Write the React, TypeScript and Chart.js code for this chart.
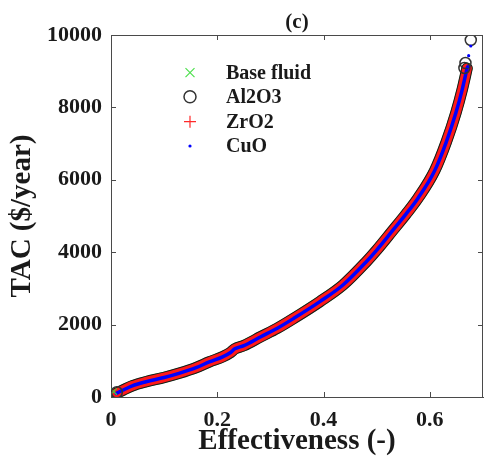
import React, { useEffect, useRef } from "react";
import { Chart, registerables } from "chart.js";

Chart.register(...registerables);

const FONT = '"Liberation Serif", "Times New Roman", Times, serif';
const AXIS = "#4a4a4a";
const TEXT = "#1a1a1a";

// Effectiveness (-) sampled along the curve
const effectiveness = [0.010, 0.023, 0.040, 0.066, 0.100, 0.128, 0.160, 0.185, 0.210, 0.225, 0.233, 0.250, 0.282, 0.313, 0.344, 0.393, 0.4365, 0.480, 0.500, 0.529, 0.555, 0.578, 0.609, 0.631, 0.649, 0.661, 0.670];
// TAC ($/year) of each fluid (the four curves overlap)
const tacBaseFluid = [100, 193, 310, 423, 540, 654, 810, 970, 1110, 1230, 1330, 1420, 1666, 1900, 2173, 2634, 3094, 3730, 4060, 4580, 5050, 5500, 6250, 7050, 7850, 8500, 9080];
const tacAl2O3 = [100, 193, 310, 423, 540, 654, 810, 970, 1110, 1230, 1330, 1420, 1666, 1900, 2173, 2634, 3094, 3730, 4060, 4580, 5050, 5500, 6250, 7050, 7850, 8500, 9080];
const tacZrO2 = [100, 193, 310, 423, 540, 654, 810, 970, 1110, 1230, 1330, 1420, 1666, 1900, 2173, 2634, 3094, 3730, 4060, 4580, 5050, 5500, 6250, 7050, 7850, 8500, 9080];
const tacCuO = [100, 193, 310, 423, 540, 654, 810, 970, 1110, 1230, 1330, 1420, 1666, 1900, 2173, 2634, 3094, 3730, 4060, 4580, 5050, 5500, 6250, 7050, 7850, 8500, 9080];

// Individual markers visible at the ends of the curve
const al2o3MarkX = [0.011, 0.665, 0.667, 0.677];
const al2o3MarkY = [130, 9088, 9226, 9862];
const cuoMarkX = [0.671, 0.673, 0.677];
const cuoMarkY = [9125, 9430, 9696];
const baseMarkX = [0.005];
const baseMarkY = [150];

const xTicks = [0, 0.2, 0.4, 0.6];
const yTicks = [0, 2000, 4000, 6000, 8000, 10000];

const legendNames = ["Base fluid", "Al2O3", "ZrO2", "CuO"];

const pts = (xs: number[], ys: number[]) => xs.map((x, i) => ({ x, y: ys[i] }));

const overlayPlugin = {
  id: "overlay",
  afterDraw(chart: any) {
    const { ctx, chartArea: ca, scales } = chart;
    ctx.save();
    // top / right borders
    ctx.strokeStyle = AXIS;
    ctx.lineWidth = 1;
    ctx.beginPath();
    ctx.moveTo(ca.left, Math.round(ca.top) + 0.5);
    ctx.lineTo(ca.right, Math.round(ca.top) + 0.5);
    ctx.moveTo(Math.round(ca.right) - 0.5, ca.top);
    ctx.lineTo(Math.round(ca.right) - 0.5, ca.bottom);
    ctx.stroke();
    // inward tick marks on all four sides
    const tl = 5;
    ctx.beginPath();
    scales.x.ticks.forEach((t: any) => {
      const px = Math.round(scales.x.getPixelForValue(t.value)) + 0.5;
      ctx.moveTo(px, ca.bottom);
      ctx.lineTo(px, ca.bottom - tl);
      ctx.moveTo(px, ca.top);
      ctx.lineTo(px, ca.top + tl);
    });
    scales.y.ticks.forEach((t: any) => {
      const py = Math.round(scales.y.getPixelForValue(t.value)) + 0.5;
      ctx.moveTo(ca.left, py);
      ctx.lineTo(ca.left + tl, py);
      ctx.moveTo(ca.right, py);
      ctx.lineTo(ca.right - tl, py);
    });
    ctx.stroke();

    // title
    ctx.fillStyle = TEXT;
    ctx.font = `bold 21px ${FONT}`;
    ctx.textAlign = "center";
    ctx.textBaseline = "middle";
    ctx.fillText("(c)", (ca.left + ca.right) / 2, 23);

    // legend
    const mx = ca.left + 79;
    const tx = ca.left + 115;
    const rows = [37.7, 61.7, 86.7, 111].map((d) => ca.top + d);
    ctx.textAlign = "left";
    ctx.font = `bold 20px ${FONT}`;
    legendNames.forEach((name, i) => {
      const y = rows[i];
      ctx.save();
      ctx.beginPath();
      if (i === 0) {
        ctx.strokeStyle = "#4ee04e";
        ctx.lineWidth = 1.2;
        const r = 4.5;
        ctx.moveTo(mx - r, y - r);
        ctx.lineTo(mx + r, y + r);
        ctx.moveTo(mx + r, y - r);
        ctx.lineTo(mx - r, y + r);
        ctx.stroke();
      } else if (i === 1) {
        ctx.strokeStyle = "#333333";
        ctx.lineWidth = 1.5;
        ctx.arc(mx, y, 6, 0, Math.PI * 2);
        ctx.stroke();
      } else if (i === 2) {
        ctx.strokeStyle = "#ff2a2a";
        ctx.lineWidth = 1.2;
        ctx.moveTo(mx - 6, y);
        ctx.lineTo(mx + 6, y);
        ctx.moveTo(mx, y - 6);
        ctx.lineTo(mx, y + 6);
        ctx.stroke();
      } else {
        ctx.fillStyle = "#0000ff";
        ctx.arc(mx, y, 1.6, 0, Math.PI * 2);
        ctx.fill();
      }
      ctx.restore();
      ctx.fillStyle = TEXT;
      ctx.fillText(name, tx, y + 1);
    });
    ctx.restore();
  },
};

export default function App() {
  const ref = useRef<HTMLCanvasElement | null>(null);

  useEffect(() => {
    document.body.style.margin = "0";
    const canvas = ref.current;
    if (!canvas) return;
    const lineDs = (label: string, ys: number[], color: string, width: number, order: number) => ({
      label,
      data: pts(effectiveness, ys),
      showLine: true,
      borderColor: color,
      backgroundColor: color,
      borderWidth: width,
      pointRadius: 0,
      cubicInterpolationMode: "monotone" as const,
      borderCapStyle: "round" as const,
      borderJoinStyle: "round" as const,
      order,
    });
    const chart = new Chart(canvas, {
      type: "scatter",
      data: {
        datasets: [
          lineDs("CuO", tacCuO, "#0000ff", 3.5, 1),
          lineDs("ZrO2", tacZrO2, "#ff1a1a", 9.5, 2),
          lineDs("Al2O3", tacAl2O3, "#1a1a1a", 11.5, 3),
          lineDs("Base fluid", tacBaseFluid, "#40d040", 11, 4),
          {
            label: "CuO marks",
            data: pts(cuoMarkX, cuoMarkY),
            pointStyle: "circle",
            pointRadius: 1.6,
            pointBackgroundColor: "#0000ff",
            pointBorderColor: "#0000ff",
            pointBorderWidth: 0,
            order: 0,
          },
          {
            label: "Al2O3 marks",
            data: pts(al2o3MarkX, al2o3MarkY),
            pointStyle: "circle",
            pointRadius: 5.5,
            pointBackgroundColor: "rgba(0,0,0,0)",
            pointBorderColor: "#333333",
            pointBorderWidth: 1.5,
            order: 0.5,
          },
          {
            label: "Base marks",
            data: pts(baseMarkX, baseMarkY),
            pointStyle: "crossRot",
            pointRadius: 4.5,
            pointBorderColor: "#40d040",
            pointBorderWidth: 1.2,
            order: 0.6,
          },
        ],
      },
      options: {
        animation: false,
        responsive: false,
        devicePixelRatio: 1,
        layout: { padding: { top: 35, right: 1, left: 0, bottom: 0 } },
        plugins: {
          legend: { display: false },
          tooltip: { enabled: false },
          title: { display: false },
        },
        scales: {
          x: {
            type: "linear",
            min: 0,
            max: 0.7,
            afterFit: (s: any) => {
              s.height = 68;
            },
            afterBuildTicks: (s: any) => {
              s.ticks = xTicks.map((v) => ({ value: v }));
            },
            grid: { display: false, drawTicks: false, tickLength: 0 },
            border: { display: true, color: AXIS, width: 1 },
            ticks: {
              padding: 10,
              color: TEXT,
              font: { family: FONT, size: 22, weight: "bold" },
              maxRotation: 0,
              callback: (v: any) => String(v),
            },
            title: {
              display: true,
              text: "Effectiveness (-)",
              color: TEXT,
              font: { family: FONT, size: 29, weight: "bold" },
              padding: { top: 0, bottom: 6.5 },
            },
          },
          y: {
            type: "linear",
            min: 0,
            max: 10000,
            afterFit: (s: any) => {
              s.width = 111;
            },
            afterBuildTicks: (s: any) => {
              s.ticks = yTicks.map((v) => ({ value: v }));
            },
            grid: { display: false, drawTicks: false, tickLength: 0 },
            border: { display: true, color: AXIS, width: 1 },
            ticks: {
              padding: 9,
              color: TEXT,
              font: { family: FONT, size: 22, weight: "bold" },
              callback: (v: any) => String(v),
            },
            title: {
              display: true,
              text: "TAC ($/year)",
              color: TEXT,
              font: { family: FONT, size: 29, weight: "bold" },
              padding: { top: 5.5, bottom: 0 },
            },
          },
        },
      },
      plugins: [overlayPlugin],
    });
    return () => chart.destroy();
  }, []);

  return (
    <div style={{ width: 486, height: 465, overflow: "hidden", position: "relative" }}>
      <canvas ref={ref} width={490} height={465} style={{ display: "block", width: 490, height: 465 }} />
    </div>
  );
}
